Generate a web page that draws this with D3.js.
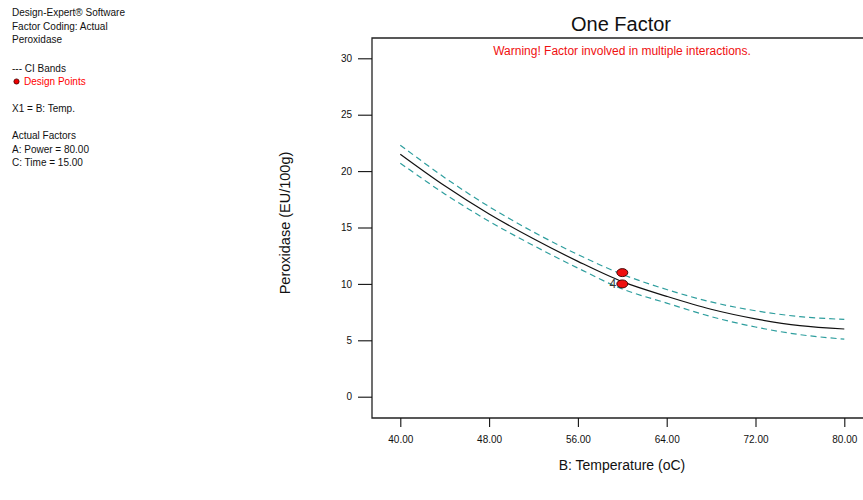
<!DOCTYPE html>
<html>
<head>
<meta charset="utf-8">
<script src="https://cdn.jsdelivr.net/npm/d3@7"></script>
<style>
  html, body { margin: 0; padding: 0; background: #fff; }
  svg { display: block; font-family: "Liberation Sans", Arial, sans-serif; }
</style>
</head>
<body>
<svg id="chart" width="863" height="500"></svg>
<script>
// Predicted peroxidase response along B: Temperature (A and C held fixed)
const temperature = [40, 44, 48, 52, 56, 60, 64, 68, 72, 76, 80];
const predicted   = [21.5, 18.7, 16.2, 14.0, 12.0, 10.2, 8.9, 7.75, 6.9, 6.3, 6.0];
const ciUpper     = [22.3, 19.42, 16.85, 14.6, 12.6, 10.85, 9.5, 8.4, 7.62, 7.1, 6.85];
const ciLower     = [20.7, 17.98, 15.55, 13.4, 11.4, 9.55, 8.3, 7.1, 6.18, 5.5, 5.1];

// Design points (temperature, response, replicate count)
const designTemp  = [60, 60];
const designValue = [11.0, 10.0];
const designCount = [1, 4];

const xTicks = [40, 48, 56, 64, 72, 80];
const yTicks = [0, 5, 10, 15, 20, 25, 30];

const infoLines = [
  "Design-Expert\u00AE Software",
  "Factor Coding: Actual",
  "Peroxidase"
];
const factorLines = [
  "Actual Factors",
  "A: Power = 80.00",
  "C: Time = 15.00"
];

const svg = d3.select("#chart");

const frame = { left: 372, right: 866, top: 38, bottom: 418 };

const x = d3.scaleLinear().domain([40, 80]).range([400.3, 844.3]);
const y = d3.scaleLinear().domain([0, 30]).range([396.7, 58.3]);

// Side panel text
const info = svg.append("g").attr("font-size", 10).attr("fill", "#111");
infoLines.forEach((t, i) => {
  info.append("text").attr("x", 12).attr("y", 16 + i * 13.5).text(t);
});
info.append("text").attr("x", 12).attr("y", 72).text("--- CI Bands");
info.append("circle").attr("cx", 16.5).attr("cy", 81.5).attr("r", 2.6)
  .attr("fill", "#e00").attr("stroke", "#400").attr("stroke-width", 0.8);
info.append("text").attr("x", 24).attr("y", 85).attr("fill", "#f00").text("Design Points");
info.append("text").attr("x", 12).attr("y", 112).text("X1 = B: Temp.");
factorLines.forEach((t, i) => {
  info.append("text").attr("x", 12).attr("y", 139 + i * 13.5).text(t);
});

// Title and warning
svg.append("text").attr("x", 621).attr("y", 31).attr("text-anchor", "middle")
  .attr("font-size", 20).attr("fill", "#111").text("One Factor");
svg.append("text").attr("x", 622).attr("y", 55).attr("text-anchor", "middle")
  .attr("font-size", 12).attr("fill", "#f01010")
  .text("Warning! Factor involved in multiple interactions.");

// Plot frame
svg.append("path")
  .attr("d", `M${frame.right},${frame.top}H${frame.left}V${frame.bottom}H${frame.right}`)
  .attr("fill", "none").attr("stroke", "#222").attr("stroke-width", 1.3);

// Y axis
const yAxis = d3.axisLeft(y).tickValues(yTicks).tickSize(14).tickPadding(6)
  .tickFormat(d3.format("d"));
const gy = svg.append("g").attr("transform", `translate(${frame.left},0)`).call(yAxis);
gy.select(".domain").remove();
gy.selectAll(".tick line").attr("stroke", "#111").attr("stroke-width", 1.1);
gy.selectAll(".tick text").attr("font-size", 10).attr("fill", "#111")
  .attr("font-family", "Liberation Sans, Arial, sans-serif");

// X axis
const xAxis = d3.axisBottom(x).tickValues(xTicks).tickSize(9).tickPadding(9)
  .tickFormat(d3.format(".2f"));
const gx = svg.append("g").attr("transform", `translate(0,${frame.bottom})`).call(xAxis);
gx.select(".domain").remove();
gx.selectAll(".tick line").attr("stroke", "#111").attr("stroke-width", 1.1);
gx.selectAll(".tick text").attr("font-size", 10).attr("fill", "#111")
  .attr("font-family", "Liberation Sans, Arial, sans-serif");

// Axis titles
svg.append("text")
  .attr("transform", "translate(290,223) rotate(-90)")
  .attr("text-anchor", "middle").attr("font-size", 14.5).attr("fill", "#111")
  .text("Peroxidase (EU/100g)");
svg.append("text").attr("x", 622).attr("y", 470).attr("text-anchor", "middle")
  .attr("font-size", 14).attr("fill", "#111").text("B: Temperature (oC)");

// Curves
const line = (vals) => d3.line()
  .x((d, i) => x(temperature[i]))
  .y(d => y(d))
  .curve(d3.curveCatmullRom)(vals);

svg.append("path").attr("d", line(ciUpper)).attr("fill", "none")
  .attr("stroke", "#2e9e9e").attr("stroke-width", 1.2).attr("stroke-dasharray", "6,4");
svg.append("path").attr("d", line(ciLower)).attr("fill", "none")
  .attr("stroke", "#2e9e9e").attr("stroke-width", 1.2).attr("stroke-dasharray", "6,4");
svg.append("path").attr("d", line(predicted)).attr("fill", "none")
  .attr("stroke", "#111").attr("stroke-width", 1.2);

// Design points
designTemp.forEach((t, i) => {
  svg.append("ellipse").attr("cx", x(t)).attr("cy", y(designValue[i]))
    .attr("rx", 5.5).attr("ry", 4).attr("fill", "#ee1010")
    .attr("stroke", "#300").attr("stroke-width", 0.9);
  if (designCount[i] > 1) {
    svg.append("text").attr("x", x(t) - 6).attr("y", y(designValue[i]) + 4.5)
      .attr("text-anchor", "end").attr("font-size", 12).attr("fill", "#333")
      .text(designCount[i]);
  }
});
</script>
</body>
</html>
